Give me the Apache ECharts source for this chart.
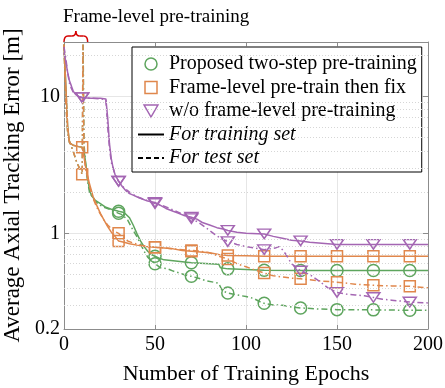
<!DOCTYPE html>
<html><head><meta charset="utf-8">
<script src="https://cdn.jsdelivr.net/npm/echarts@6/dist/echarts.min.js"></script>
<style>html,body{margin:0;padding:0;background:#fff}#c{width:445px;height:388px}</style>
</head><body><div id="c"></div>
<script>
// ---- data ----
const xTickValues = [0, 50, 100, 150, 200];
const yTickLabels = [0.2, 1, 10];
const yMinorGrid = [0.3, 0.4, 0.5, 0.6, 0.7, 0.8, 0.9, 2, 3, 4, 5, 6, 7, 8, 9, 20];
const markerEpochs = [10, 30, 50, 70, 90, 110, 130, 150, 170, 190];
const greenMarkerEpochs = [30, 50, 70, 90, 110, 130, 150, 170, 190];

const seriesNames = ['Proposed two-step pre-training', 'Frame-level pre-train then fix', 'w/o frame-level pre-training'];
const styleNames = ['For training set', 'For test set'];
const annotationText = 'Frame-level pre-training';

const greenTrain = [[0,24],[1,12],[2,6],[3,4.6],[5,4.4],[8,4.3],[10,4.25],[11,4.0],[12,3.2],[13,2.5],[14,2.1],[15,1.9],[17,1.75],[20,1.65],[23,1.55],[26,1.5],[30,1.45],[33,1.42],[36,1.3],[38,1.15],[40,1.0],[42,0.88],[44,0.8],[46,0.74],[48,0.7],[50,0.68],[52,0.66],[55,0.64],[60,0.63],[65,0.62],[70,0.61],[75,0.605],[80,0.6],[85,0.595],[86,0.56],[90,0.55],[100,0.545],[110,0.537],[130,0.535],[150,0.535],[170,0.535],[190,0.535],[200,0.535]];
const greenTest = [[0,24],[1,9],[2,5.5],[3,4.7],[5,4.0],[7,3.3],[9,2.9],[10,2.7],[10.5,24],[11,4.5],[12,3.0],[13,2.4],[14,2.0],[16,1.8],[18,1.68],[20,1.6],[22,1.55],[25,1.5],[28,1.44],[30,1.4],[32,1.37],[35,1.25],[38,1.05],[40,0.95],[42,0.84],[44,0.74],[46,0.67],[48,0.63],[50,0.6],[53,0.56],[57,0.55],[60,0.53],[64,0.51],[68,0.49],[70,0.485],[74,0.47],[78,0.45],[82,0.44],[85,0.432],[87,0.38],[90,0.367],[95,0.355],[100,0.345],[104,0.335],[108,0.315],[110,0.308],[115,0.3],[120,0.298],[125,0.29],[130,0.285],[140,0.28],[150,0.277],[160,0.277],[170,0.276],[180,0.275],[190,0.274],[200,0.274]];
const orangeTrain = [[0,24],[1,12],[2,6],[3,4.6],[5,4.4],[8,4.3],[10,4.25],[11,3.6],[12,3.0],[14,2.3],[16,1.85],[18,1.6],[20,1.4],[22,1.25],[24,1.12],[26,1.02],[28,0.95],[30,0.88],[33,0.86],[36,0.84],[40,0.82],[45,0.8],[50,0.79],[55,0.78],[60,0.77],[65,0.75],[70,0.74],[75,0.73],[80,0.72],[85,0.7],[90,0.69],[100,0.685],[110,0.68],[130,0.68],[150,0.68],[170,0.68],[190,0.68],[200,0.68]];
const orangeTest = [[0,24],[1,9],[2,5.5],[3,4.7],[5,4.0],[7,3.3],[9,2.9],[10,2.7],[10.4,24],[11,3.8],[12,2.9],[14,2.2],[16,1.8],[18,1.55],[20,1.38],[22,1.25],[24,1.15],[26,1.08],[28,1.03],[30,1.0],[32,0.93],[35,0.88],[38,0.85],[42,0.82],[46,0.8],[50,0.79],[55,0.785],[60,0.77],[65,0.76],[70,0.75],[75,0.74],[80,0.72],[85,0.68],[90,0.65],[95,0.6],[100,0.57],[105,0.54],[110,0.513],[115,0.49],[120,0.48],[125,0.47],[130,0.465],[140,0.45],[150,0.44],[160,0.425],[170,0.417],[180,0.413],[190,0.41],[200,0.4]];
const purpleTrain = [[0,21],[1,18],[2,15],[3,13],[4,12],[5,11],[6,10.5],[7,10.2],[8,10],[10,9.8],[15,9.7],[20,9.7],[23,9.6],[24,7],[25,4.5],[26,3.5],[27,3.0],[28,2.7],[30,2.4],[32,2.2],[34,2.05],[36,1.95],[38,1.9],[40,1.85],[43,1.78],[46,1.72],[50,1.68],[53,1.6],[56,1.52],[60,1.45],[63,1.4],[66,1.35],[70,1.31],[73,1.27],[76,1.2],[80,1.15],[84,1.1],[88,1.07],[90,1.05],[95,1.02],[100,1.0],[110,0.99],[115,0.95],[120,0.92],[125,0.89],[130,0.88],[135,0.86],[140,0.85],[145,0.84],[150,0.83],[170,0.83],[190,0.83],[200,0.83]];
const purpleTest = [[0,23],[1,19],[2,15],[3,12.5],[4,11.5],[5,10.8],[7,10.2],[10,9.8],[15,9.7],[20,9.6],[23,9.5],[24,6],[25,4.2],[26,3.3],[28,2.7],[30,2.4],[33,2.15],[36,2.0],[40,1.85],[45,1.75],[50,1.65],[55,1.58],[60,1.48],[65,1.38],[70,1.28],[73,1.22],[76,1.15],[80,1.05],[83,0.98],[86,0.92],[90,0.87],[95,0.83],[100,0.8],[105,0.78],[110,0.76],[113,0.77],[116,0.78],[118,0.8],[120,0.76],[122,0.7],[125,0.6],[128,0.56],[130,0.53],[135,0.5],[140,0.45],[145,0.4],[150,0.37],[155,0.36],[160,0.355],[165,0.35],[170,0.34],[175,0.33],[180,0.325],[185,0.32],[190,0.315],[200,0.31]];

// ---- chart ----
const FONT = 'Liberation Serif';
const C = { green: '#5ea55e', orange: '#e0874c', purple: '#a466b3' };
const TRI = 'path://M0,0L12,0L6,10.4Z';
const SQ = 'path://M0,0L10,0L10,10L0,10Z';
const DASHDOT = [6, 3, 1.5, 3];

function mk(name, data, color, sym, size, markers, dashed, z) {
  return {
    type: 'line', name, data, z,
    symbol: (v) => markers.indexOf(v[0]) >= 0 ? sym : 'none',
    symbolSize: size, showAllSymbol: true, symbolKeepAspect: true,
    lineStyle: { color, width: 1.5, type: dashed ? DASHDOT : 'solid' },
    itemStyle: { color: 'transparent', borderColor: color, borderWidth: 1.5 },
    emphasis: { disabled: true }, animation: false, silent: true
  };
}

const series = [
  mk(seriesNames[0], greenTrain, C.green, 'circle', 12, greenMarkerEpochs, false, 2),
  mk(seriesNames[0], greenTest, C.green, 'circle', 12, greenMarkerEpochs, true, 2),
  mk(seriesNames[1], orangeTrain, C.orange, 'rect', 11, markerEpochs, false, 3),
  mk(seriesNames[1], orangeTest, C.orange, 'rect', 11, markerEpochs, true, 3),
  mk(seriesNames[2], purpleTrain, C.purple, TRI, [13, 11], markerEpochs, false, 4),
  mk(seriesNames[2], purpleTest, C.purple, TRI, [13, 11], markerEpochs, true, 4),
  { type: 'line', name: styleNames[0], data: [], symbol: 'none', lineStyle: { color: '#000', width: 2, type: 'solid' }, itemStyle: { color: 'transparent' } },
  { type: 'line', name: styleNames[1], data: [], symbol: 'none', lineStyle: { color: '#000', width: 2, type: [5, 3] }, itemStyle: { color: 'transparent' } }
];
series[0].markLine = {
  silent: true, symbol: ['none', 'none'], label: { show: false }, animation: false,
  lineStyle: { type: [1, 2], color: '#d6d6d6', width: 1 },
  emphasis: { disabled: true },
  data: yMinorGrid.map(v => ({ yAxis: v }))
};

const axisGray = '#8c8c8c';
const chart = echarts.init(document.getElementById('c'));
chart.setOption({
  animation: false,
  backgroundColor: '#fff',
  grid: { left: 64, top: 42, width: 364, height: 287, containLabel: false, outerBoundsMode: 'none' },
  xAxis: [{
    type: 'value', min: xTickValues[0], max: xTickValues[xTickValues.length - 1], interval: 50,
    axisLine: { show: true, lineStyle: { color: axisGray } },
    axisTick: { show: true, inside: true, length: 4, lineStyle: { color: axisGray } },
    axisLabel: { fontFamily: FONT, fontSize: 20, color: '#000', margin: 6 },
    splitLine: { show: true, lineStyle: { color: '#e6e6e6' } },
    name: 'Number of Training Epochs', nameLocation: 'middle', nameGap: 34,
    nameTextStyle: { fontFamily: FONT, fontSize: 22, color: '#000' }
  }, {
    type: 'value', position: 'top', min: 0, max: 200, interval: 50,
    axisLine: { show: true, onZero: false, lineStyle: { color: axisGray } },
    axisTick: { show: true, inside: true, length: 4, lineStyle: { color: axisGray } },
    axisLabel: { show: false }, splitLine: { show: false }
  }],
  yAxis: [{
    type: 'log', logBase: 10, min: 0.2, max: 25,
    axisLine: { show: true, lineStyle: { color: axisGray } },
    axisTick: { show: true, inside: true, length: 5, lineStyle: { color: axisGray } },
    axisLabel: {
      fontFamily: FONT, fontSize: 20, color: '#000', margin: 4,
      formatter: (v) => { const r = Math.round(v * 1000) / 1000; return yTickLabels.indexOf(r) >= 0 ? String(r) : ''; }
    },
    splitLine: { show: true, lineStyle: { color: '#e6e6e6' } },
    name: 'Average Axial Tracking Error [m]', nameLocation: 'middle', nameGap: 39,
    nameTextStyle: { fontFamily: FONT, fontSize: 23, color: '#000' }
  }, {
    type: 'log', logBase: 10, min: 0.2, max: 25, position: 'right',
    axisLine: { show: true, onZero: false, lineStyle: { color: axisGray } },
    axisTick: { show: true, inside: true, length: 5, lineStyle: { color: axisGray } },
    axisLabel: { show: false }, splitLine: { show: false }
  }],
  legend: {
    orient: 'vertical', left: 132, top: 47, padding: [7, 5, 4, 5], itemGap: 3.5,
    itemWidth: 26, itemHeight: 12, selectedMode: false,
    backgroundColor: '#fff', borderColor: '#000', borderWidth: 1, borderRadius: 0,
    textStyle: { fontFamily: FONT, fontSize: 20, color: '#000', lineHeight: 20 },
    data: [
      { name: seriesNames[0], icon: 'circle', itemStyle: { color: 'transparent', borderColor: C.green, borderWidth: 1.5 } },
      { name: seriesNames[1], icon: SQ, itemStyle: { color: 'transparent', borderColor: C.orange, borderWidth: 1.5 } },
      { name: seriesNames[2], icon: TRI, itemStyle: { color: 'transparent', borderColor: C.purple, borderWidth: 1.5 } },
      { name: styleNames[0], itemStyle: { color: 'transparent', borderColor: 'transparent', borderWidth: 0 }, textStyle: { fontStyle: 'italic' } },
      { name: styleNames[1], itemStyle: { color: 'transparent', borderColor: 'transparent', borderWidth: 0 }, textStyle: { fontStyle: 'italic' } }
    ]
  },
  series
});

// annotation: brace over the frame-level pre-training epochs
const xa = chart.convertToPixel({ xAxisIndex: 0 }, 0);
const xb = chart.convertToPixel({ xAxisIndex: 0 }, 13);
const yTop = chart.convertToPixel({ yAxisIndex: 0 }, 25);
const xm = (xa + xb) / 2, yb = yTop - 6;
const braceStyle = { stroke: '#d40000', lineWidth: 1.5, fill: null };
chart.setOption({
  graphic: [
    { type: 'text', x: xa - 1, y: 17, silent: true,
      style: { text: annotationText, font: '19px "Liberation Serif"', fill: '#000', verticalAlign: 'middle' } },
    { type: 'bezierCurve', silent: true, shape: { x1: xa, y1: yTop, x2: xa + 4, y2: yb, cpx1: xa, cpy1: yb }, style: braceStyle },
    { type: 'line', silent: true, shape: { x1: xa + 4, y1: yb, x2: xm - 4, y2: yb }, style: braceStyle },
    { type: 'bezierCurve', silent: true, shape: { x1: xm - 4, y1: yb, x2: xm, y2: yb - 5, cpx1: xm, cpy1: yb }, style: braceStyle },
    { type: 'bezierCurve', silent: true, shape: { x1: xm, y1: yb - 5, x2: xm + 4, y2: yb, cpx1: xm, cpy1: yb }, style: braceStyle },
    { type: 'line', silent: true, shape: { x1: xm + 4, y1: yb, x2: xb - 4, y2: yb }, style: braceStyle },
    { type: 'bezierCurve', silent: true, shape: { x1: xb - 4, y1: yb, x2: xb, y2: yTop, cpx1: xb, cpy1: yb }, style: braceStyle }
  ]
});
</script></body></html>
